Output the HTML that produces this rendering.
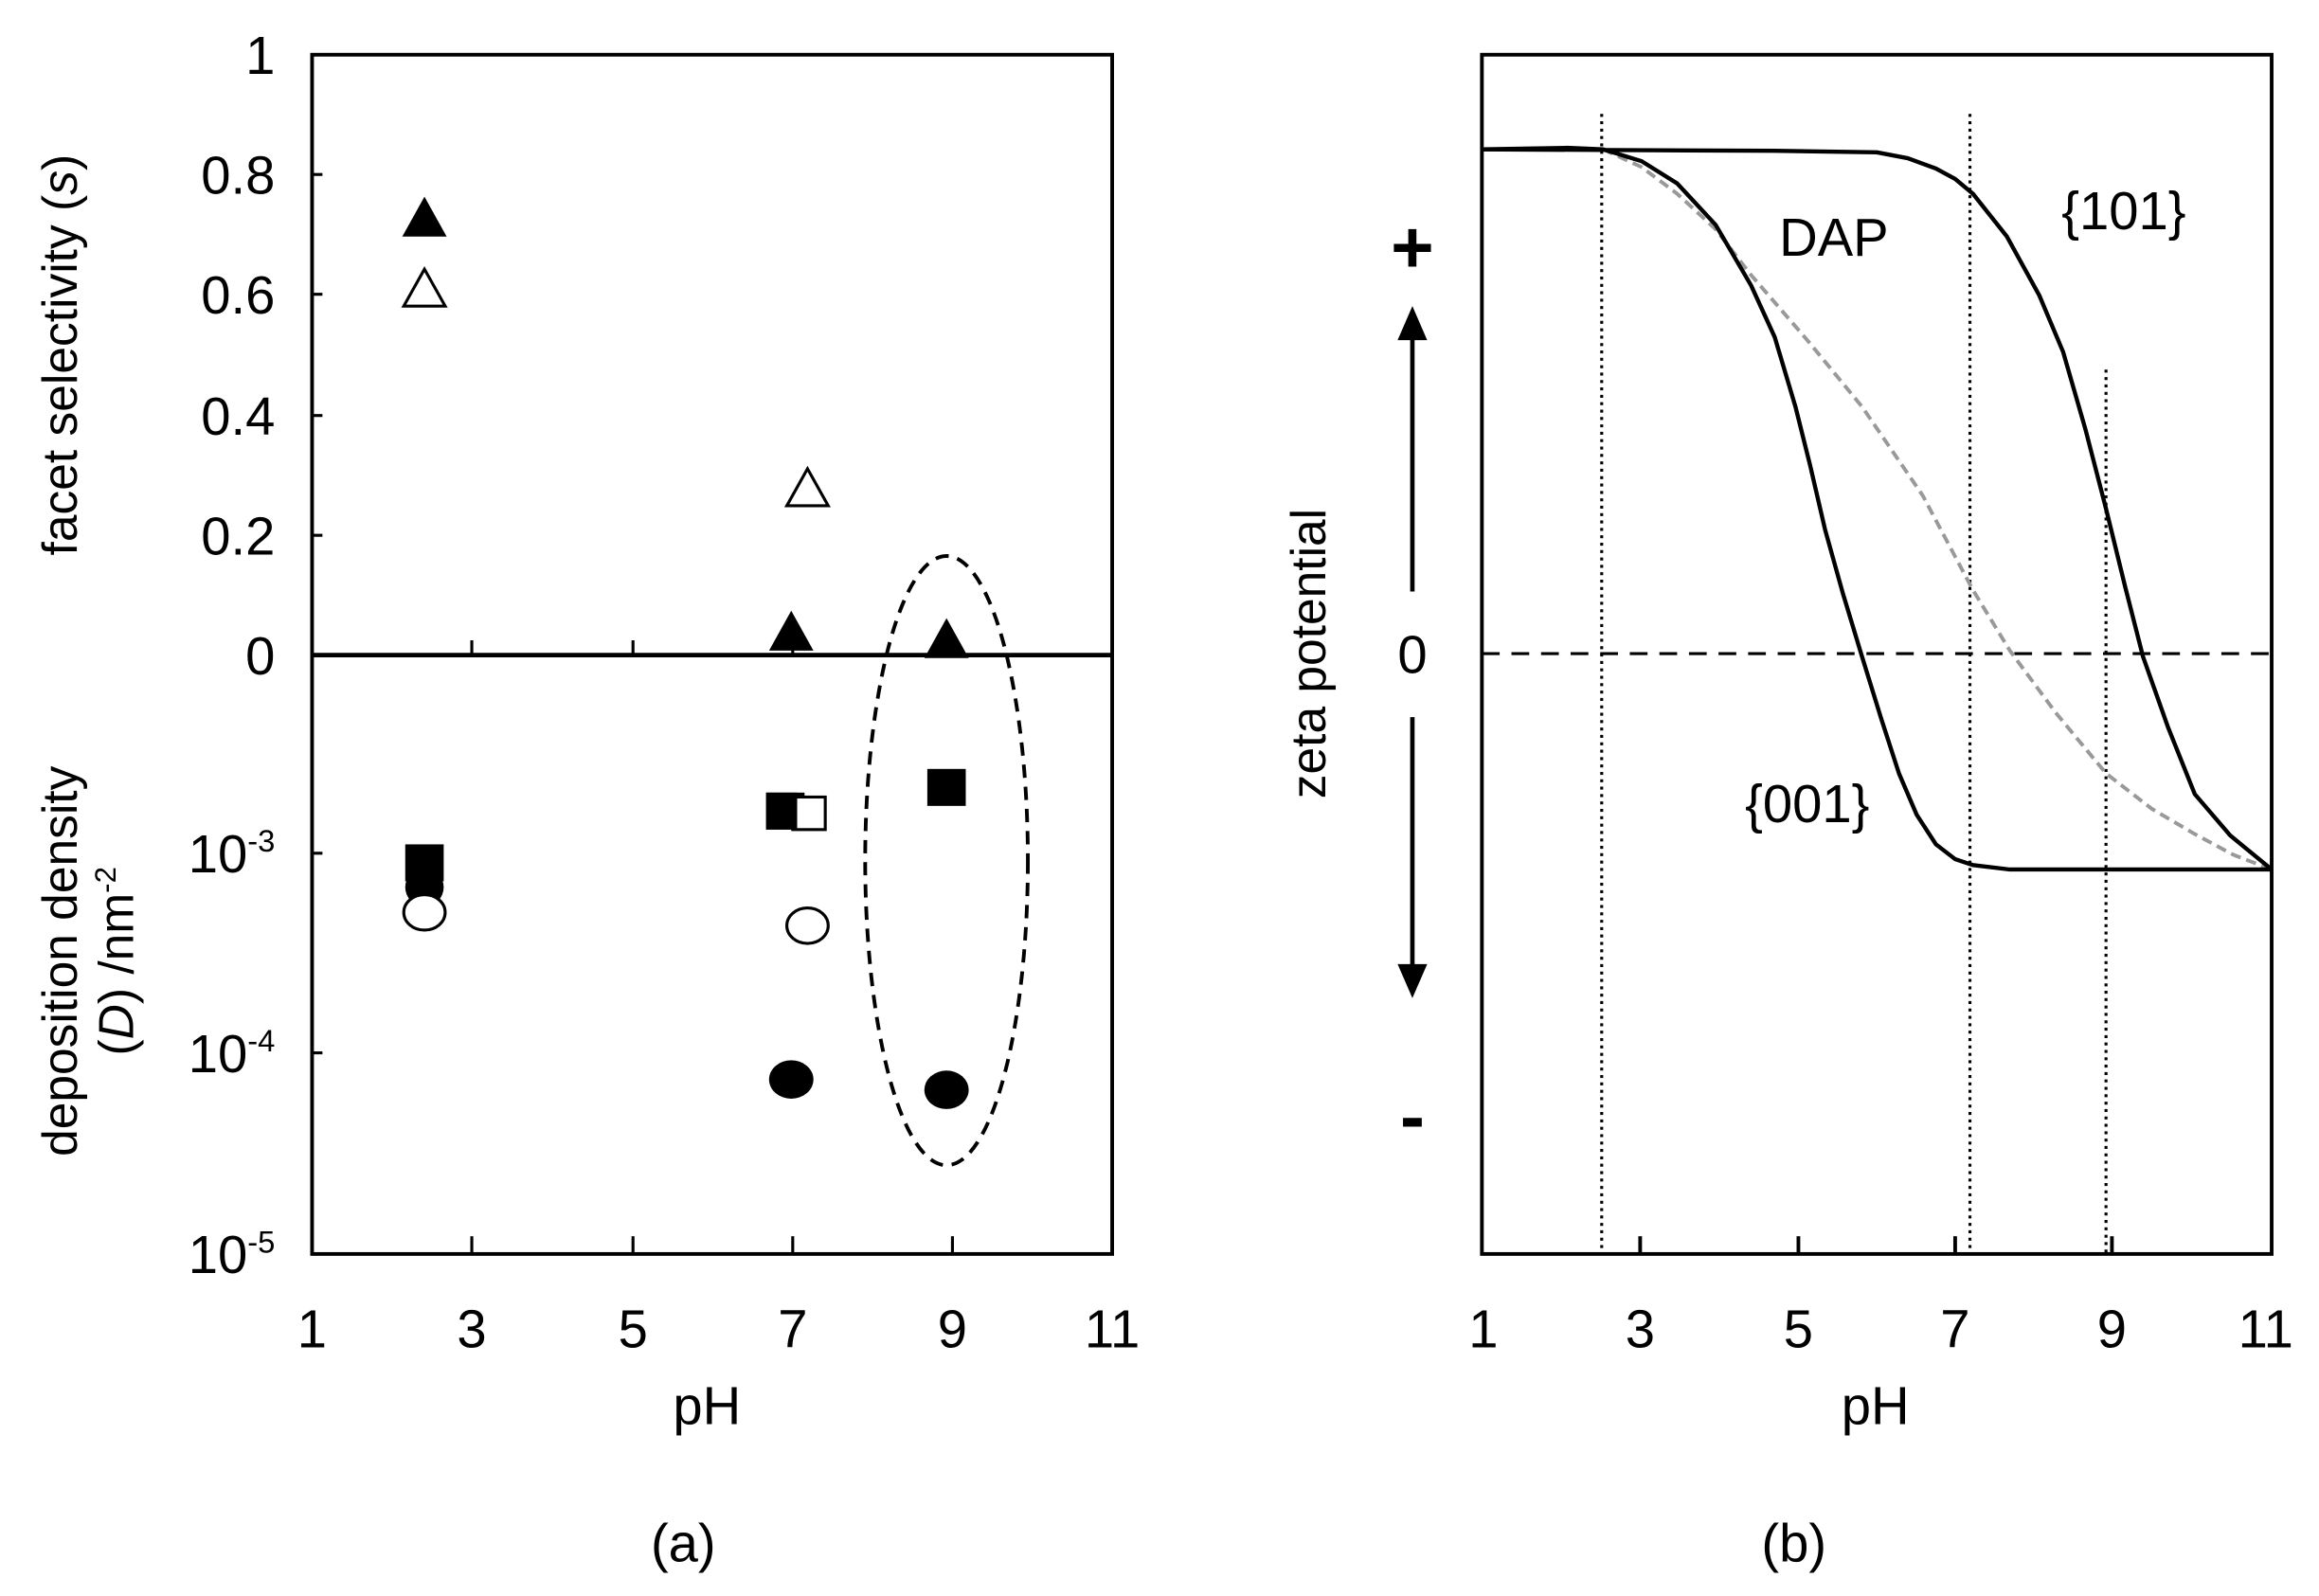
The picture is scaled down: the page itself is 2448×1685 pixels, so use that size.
<!DOCTYPE html>
<html><head><style>html,body{margin:0;padding:0;background:#fff}svg{display:block}</style></head>
<body>
<svg width="2448" height="1685" viewBox="0 0 1568 1079.3" xmlns="http://www.w3.org/2000/svg" font-family="Liberation Sans, Arial, sans-serif">
<rect width="1568" height="1080" fill="#fff"/>
<!-- Panel a -->
<rect x="211" y="37" width="541" height="811" fill="none" stroke="#000" stroke-width="2.5"/>
<line x1="211" y1="443" x2="752" y2="443" stroke="#000" stroke-width="3"/>
<g stroke="#000" stroke-width="2">
<line x1="319" y1="848" x2="319" y2="836"/><line x1="428" y1="848" x2="428" y2="836"/><line x1="536" y1="848" x2="536" y2="836"/><line x1="644" y1="848" x2="644" y2="836"/>
<line x1="319" y1="443" x2="319" y2="433"/><line x1="428" y1="443" x2="428" y2="433"/><line x1="536" y1="443" x2="536" y2="433"/><line x1="644" y1="443" x2="644" y2="433"/>
<line x1="211" y1="118" x2="218" y2="118"/><line x1="211" y1="199" x2="218" y2="199"/><line x1="211" y1="281" x2="218" y2="281"/><line x1="211" y1="362" x2="218" y2="362"/>
<line x1="211" y1="577" x2="218" y2="577"/><line x1="211" y1="712" x2="218" y2="712"/>
</g>
<g font-size="36" text-anchor="end" fill="#000">
<text x="186" y="50">1</text><text x="186" y="131">0.8</text><text x="186" y="212">0.6</text><text x="186" y="294">0.4</text><text x="186" y="375">0.2</text><text x="186" y="456">0</text>
<text x="186" y="590">10<tspan font-size="21" dy="-14">-3</tspan></text>
<text x="186" y="725">10<tspan font-size="21" dy="-14">-4</tspan></text>
<text x="186" y="861">10<tspan font-size="21" dy="-14">-5</tspan></text>
</g>
<g font-size="36" text-anchor="middle">
<text x="211" y="911">1</text><text x="319" y="911">3</text><text x="428" y="911">5</text><text x="536" y="911">7</text><text x="644" y="911">9</text><text x="752" y="911">11</text>
<text x="478" y="963">pH</text><text x="462" y="1056">(a)</text>
</g>
<text transform="translate(52,240) rotate(-90)" font-size="33" text-anchor="middle">facet selectivity (<tspan font-style="italic">s</tspan>)</text>
<text transform="translate(52,650) rotate(-90)" font-size="33" text-anchor="middle">deposition density</text>
<text transform="translate(90,650) rotate(-90)" font-size="33" text-anchor="middle">(<tspan font-style="italic">D</tspan>) /nm<tspan font-size="20" dy="-12">-2</tspan></text>
<!-- markers -->
<g fill="#000">
<polygon points="287,133 272,160 302,160"/>
<polygon points="535,413 520,440 550,440"/>
<polygon points="640,418 625,445 655,445"/>
<rect x="627" y="520" width="26" height="25"/>
<rect x="518" y="536" width="26" height="25"/>
<rect x="274" y="571" width="26" height="25"/>
<circle cx="287" cy="600" r="13"/>
<ellipse cx="535" cy="730" rx="15" ry="13"/>
<ellipse cx="640" cy="737" rx="15" ry="13"/>
</g>
<g fill="#fff" stroke="#000" stroke-width="2">
<polygon points="287,182 273,207 301,207"/>
<polygon points="546,317 532,342 560,342"/>
<rect x="536" y="539" width="22" height="22"/>
<rect x="518" y="536" width="21" height="25" fill="#000" stroke="none"/>
<ellipse cx="287" cy="617" rx="14" ry="12"/>
<ellipse cx="546" cy="626" rx="14" ry="12"/>
</g>
<ellipse cx="640" cy="582" rx="55" ry="206" fill="none" stroke="#000" stroke-width="2.5" stroke-dasharray="9,6"/>

<!-- Panel b -->
<rect x="1002" y="37" width="534" height="811" fill="none" stroke="#000" stroke-width="2.5"/>
<g stroke="#000" stroke-width="2.5">
<line x1="1109" y1="848" x2="1109" y2="836"/><line x1="1216" y1="848" x2="1216" y2="836"/><line x1="1322" y1="848" x2="1322" y2="836"/><line x1="1428" y1="848" x2="1428" y2="836"/>
</g>
<g stroke="#000" stroke-width="2" stroke-dasharray="2,3">
<line x1="1083" y1="77" x2="1083" y2="848"/><line x1="1332" y1="77" x2="1332" y2="848"/><line x1="1424" y1="250" x2="1424" y2="848"/>
</g>
<line x1="1002" y1="442" x2="1536" y2="442" stroke="#000" stroke-width="2" stroke-dasharray="12,8"/>
<polyline fill="none" stroke="#999" stroke-width="2.5" stroke-dasharray="7,4" points="1084,101 1110,113 1134,131 1160,155 1184,186 1222,230 1259,275 1300,335 1334,399 1359,440 1390,482 1424,523 1455,547 1484,564 1510,578 1536,588"/>
<polyline fill="none" stroke="#000" stroke-width="2.8" stroke-linejoin="round" points="1001,101 1060,100 1084,101 1110,109 1134,124 1160,152 1184,193 1200,228 1214,275 1224,315 1234,358 1246,401 1259,444 1272,486 1284,523 1296,551 1309,571 1322,581 1334,585 1359,588 1536,588"/>
<polyline fill="none" stroke="#000" stroke-width="2.8" stroke-linejoin="round" points="1001,101 1200,102 1269,103 1290,107 1309,114 1322,121 1334,131 1357,160 1379,200 1395,238 1410,290 1424,344 1437,397 1449,444 1466,492 1484,537 1508,565 1536,588"/>
<g stroke="#000" stroke-width="3">
<line x1="955" y1="225" x2="955" y2="400"/><line x1="955" y1="485" x2="955" y2="655"/>
</g>
<polygon points="955,207 945,230 965,230" fill="#000"/>
<polygon points="955,675 945,652 965,652" fill="#000"/>
<g font-size="36" text-anchor="middle">
<text x="955" y="184" font-size="50" font-weight="bold">+</text>
<text x="955" y="455">0</text>
<text x="955" y="772" font-size="50" font-weight="bold">-</text>
<text x="1003" y="911">1</text><text x="1109" y="911">3</text><text x="1216" y="911">5</text><text x="1322" y="911">7</text><text x="1428" y="911">9</text><text x="1532" y="911">11</text>
<text x="1268" y="963">pH</text><text x="1213" y="1056">(b)</text>
<text x="1240" y="173">DAP</text><text x="1436" y="155">{101}</text><text x="1222" y="556">{001}</text>
</g>
<text transform="translate(896,442) rotate(-90)" font-size="33" text-anchor="middle">zeta potential</text>
</svg>
</body></html>
